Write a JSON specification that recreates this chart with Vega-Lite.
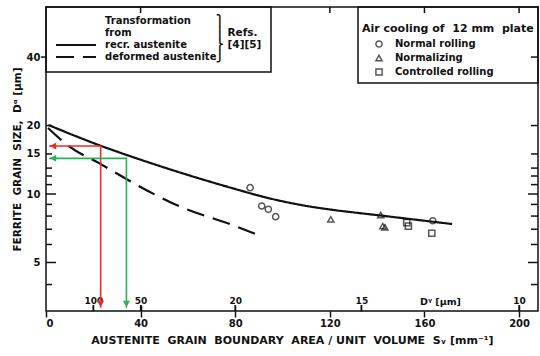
{
  "$schema": "https://vega.github.io/schema/vega-lite/v6.json",
  "width": 492,
  "height": 304,
  "autosize": {"type": "none"},
  "padding": {"left": 46, "top": 7, "right": 2, "bottom": 45},
  "background": "white",
  "config": {
    "view": {"stroke": "#111", "strokeWidth": 1.5},
    "font": "DejaVu Sans",
    "axis": {
      "labelFont": "DejaVu Sans", "labelFontWeight": "bold", "labelFontSize": 10, "labelColor": "#111",
      "tickColor": "#111", "tickWidth": 1.5, "grid": false, "domain": false,
      "titleFont": "DejaVu Sans", "titleFontWeight": "bold", "titleFontSize": 10.5, "titleColor": "#111"
    },
    "legend": {
      "labelFont": "DejaVu Sans", "labelFontWeight": "bold", "labelFontSize": 10, "labelColor": "#111",
      "titleFont": "DejaVu Sans", "titleFontWeight": "bold", "titleColor": "#111",
      "strokeColor": "#111", "strokeWidth": 1.5
    }
  },
  "datasets": {
    "curves": [
      {"curve": "recr. austenite", "Sv": 1.06, "D": 20.1},
      {"curve": "recr. austenite", "Sv": 22.83, "D": 16.34},
      {"curve": "recr. austenite", "Sv": 39.75, "D": 14.18},
      {"curve": "recr. austenite", "Sv": 56.66, "D": 12.43},
      {"curve": "recr. austenite", "Sv": 77.8, "D": 10.68},
      {"curve": "recr. austenite", "Sv": 94.7, "D": 9.56},
      {"curve": "recr. austenite", "Sv": 111.6, "D": 8.81},
      {"curve": "recr. austenite", "Sv": 120.1, "D": 8.55},
      {"curve": "recr. austenite", "Sv": 141.2, "D": 8.05},
      {"curve": "recr. austenite", "Sv": 171.7, "D": 7.38},
      {"curve": "deformed austenite", "Sv": 0.85, "D": 19.5},
      {"curve": "deformed austenite", "Sv": 10.1, "D": 16.1},
      {"curve": "deformed austenite", "Sv": 22.8, "D": 13.6},
      {"curve": "deformed austenite", "Sv": 36.8, "D": 11.2},
      {"curve": "deformed austenite", "Sv": 56.7, "D": 8.8},
      {"curve": "deformed austenite", "Sv": 79.0, "D": 7.3},
      {"curve": "deformed austenite", "Sv": 90.5, "D": 6.55}
    ],
    "points": [
      {"process": "Normal rolling", "Sv": 86.3, "D": 10.66},
      {"process": "Normal rolling", "Sv": 91.2, "D": 8.86},
      {"process": "Normal rolling", "Sv": 94.0, "D": 8.57},
      {"process": "Normal rolling", "Sv": 97.1, "D": 7.95},
      {"process": "Normal rolling", "Sv": 163.5, "D": 7.63},
      {"process": "Normalizing", "Sv": 120.4, "D": 7.74},
      {"process": "Normalizing", "Sv": 141.5, "D": 8.09},
      {"process": "Normalizing", "Sv": 142.4, "D": 7.23},
      {"process": "Normalizing", "Sv": 143.3, "D": 7.14},
      {"process": "Controlled rolling", "Sv": 152.5, "D": 7.48},
      {"process": "Controlled rolling", "Sv": 153.2, "D": 7.23},
      {"process": "Controlled rolling", "Sv": 163.1, "D": 6.72}
    ],
    "arrows": [
      {"arrow": "red", "step": 1, "Sv": 1.3, "D": 16.26},
      {"arrow": "red", "step": 2, "Sv": 23.1, "D": 16.26},
      {"arrow": "red", "step": 3, "Sv": 23.1, "D": 3.16},
      {"arrow": "green", "step": 1, "Sv": 1.3, "D": 14.35},
      {"arrow": "green", "step": 2, "Sv": 34.0, "D": 14.35},
      {"arrow": "green", "step": 3, "Sv": 34.0, "D": 3.16}
    ],
    "heads": [
      {"arrow": "red", "head": "triangle-left", "Sv": 3.0, "D": 16.26},
      {"arrow": "red", "head": "triangle-down", "Sv": 23.1, "D": 3.29},
      {"arrow": "green", "head": "triangle-left", "Sv": 3.0, "D": 14.35},
      {"arrow": "green", "head": "triangle-down", "Sv": 34.0, "D": 3.29}
    ],
    "leftMinor": [{"Sv": 0, "D": 4}, {"Sv": 0, "D": 6}, {"Sv": 0, "D": 7}, {"Sv": 0, "D": 8}, {"Sv": 0, "D": 9}, {"Sv": 0, "D": 11}, {"Sv": 0, "D": 12}, {"Sv": 0, "D": 13}, {"Sv": 0, "D": 15}, {"Sv": 0, "D": 20}],
    "leftMajor": [{"Sv": 0, "D": 5}, {"Sv": 0, "D": 10}],
    "leftOuter": [{"Sv": 0, "D": 40}],
    "rightMinor": [{"Sv": 208, "D": 4}, {"Sv": 208, "D": 6}, {"Sv": 208, "D": 7}, {"Sv": 208, "D": 8}, {"Sv": 208, "D": 9}, {"Sv": 208, "D": 11}, {"Sv": 208, "D": 12}, {"Sv": 208, "D": 13}, {"Sv": 208, "D": 15}, {"Sv": 208, "D": 20}, {"Sv": 208, "D": 40}],
    "rightMajor": [{"Sv": 208, "D": 5}, {"Sv": 208, "D": 10}],
    "topTicks": [{"Sv": 40, "D": 66.4}, {"Sv": 120, "D": 66.4}, {"Sv": 160, "D": 66.4}, {"Sv": 200, "D": 66.4}],
    "dTicks": [{"Sv": 20, "D": 3.06}, {"Sv": 40, "D": 3.06}, {"Sv": 80, "D": 3.06}, {"Sv": 133.333, "D": 3.06}, {"Sv": 200, "D": 3.06}]
  },
  "layer": [
    {
      "data": {"name": "curves"},
      "mark": {"type": "line", "color": "#111", "strokeWidth": 2.2, "interpolate": "monotone"},
      "encoding": {
        "x": {
          "field": "Sv", "type": "quantitative",
          "scale": {"domain": [0, 208], "nice": false, "zero": false},
          "axis": {
            "orient": "bottom", "values": [0, 40, 80, 120, 160, 200], "tickSize": 6, "labelPadding": 1,
            "title": "AUSTENITE \u00a0GRAIN \u00a0BOUNDARY \u00a0AREA / UNIT \u00a0VOLUME \u00a0Sᵥ [mm⁻¹]",
            "titlePadding": 6, "titleFontSize": 11
          }
        },
        "y": {
          "field": "D", "type": "quantitative",
          "scale": {"type": "log", "domain": [3.06, 66.4], "nice": false},
          "axis": {
            "orient": "left", "values": [5, 10, 15, 20, 40], "ticks": false,
            "labelPadding": 6, "labelExpr": "format(datum.value, 'd')",
            "title": "FERRITE \u00a0GRAIN \u00a0SIZE, \u00a0Dᵅ [μm]", "titlePadding": 4
          }
        },
        "strokeDash": {
          "field": "curve", "type": "nominal",
          "scale": {
            "domain": ["Transformation", "from", "recr. austenite", "deformed austenite"],
            "range": [[1, 0], [1, 0], [1, 0], [18, 9]]
          },
          "legend": {
            "title": ["⎫", "⎪ Refs.", "⎬ [4][5]", "⎭"],
            "titleOrient": "right", "titleFontSize": 10.5, "titleLineHeight": 12, "titlePadding": 0,
            "orient": "top-left", "offset": 0, "padding": 9,
            "symbolType": "stroke", "symbolSize": 1600, "symbolStrokeWidth": 2, "symbolStrokeColor": "#111",
            "clipHeight": 10, "rowPadding": 2, "labelOffset": 8,
            "encode": {"symbols": {"update": {"opacity": {"signal": "datum.value === 'Transformation' || datum.value === 'from' ? 0 : 1"}}}}
          }
        }
      }
    },
    {
      "data": {"name": "points"},
      "mark": {"type": "point", "filled": false, "color": "#111", "strokeWidth": 1.5, "size": 38},
      "encoding": {
        "x": {
          "field": "Sv", "type": "quantitative",
          "scale": {"domain": [0, 208], "nice": false, "zero": false},
          "axis": {
            "orient": "top", "offset": -304, "values": [20, 40, 80, 133.333, 200],
            "tickSize": 6,
            "labelPadding": 0, "labelFontSize": 9,
            "labelExpr": "datum.value < 30 ? '100' : datum.value < 60 ? '50' : datum.value < 100 ? '20' : datum.value < 150 ? '15' : '10'",
            "title": "Dᵞ [μm]", "titleX": 394, "titleY": -10, "titleAngle": 0,
            "titleAlign": "center", "titleBaseline": "middle", "titleFontSize": 9.5
          }
        },
        "y": {
          "field": "D", "type": "quantitative",
          "scale": {"type": "log", "domain": [3.06, 66.4], "nice": false},
          "axis": null
        },
        "shape": {
          "field": "process", "type": "nominal",
          "scale": {"domain": ["Normal rolling", "Normalizing", "Controlled rolling"], "range": ["circle", "triangle-up", "square"]},
          "legend": {
            "title": ["\u00a0", "Air cooling of\u00a0 12 mm\u00a0 plate"],
            "titleFontSize": 11, "titleLineHeight": 12, "titlePadding": 5,
            "orient": "top-right", "offset": 0, "padding": 4,
            "symbolStrokeColor": "#111", "symbolFillColor": "transparent", "symbolSize": 38, "symbolStrokeWidth": 1.5,
            "symbolOffset": 12, "labelOffset": 11, "rowPadding": 1
          }
        }
      }
    },
    {
      "data": {"name": "arrows"},
      "mark": {"type": "line", "strokeWidth": 1.6},
      "encoding": {
        "x": {"field": "Sv", "type": "quantitative", "scale": {"domain": [0, 208], "nice": false, "zero": false}, "axis": null},
        "y": {"field": "D", "type": "quantitative", "scale": {"type": "log", "domain": [3.06, 66.4], "nice": false}, "axis": null},
        "color": {"field": "arrow", "type": "nominal", "scale": {"domain": ["red", "green"], "range": ["#ee2b2b", "#26b35a"]}, "legend": null},
        "detail": {"field": "arrow"},
        "order": {"field": "step", "type": "quantitative"}
      }
    },
    {
      "data": {"name": "heads"},
      "mark": {"type": "point", "filled": true, "size": 50, "opacity": 1},
      "encoding": {
        "x": {"field": "Sv", "type": "quantitative", "scale": {"domain": [0, 208], "nice": false, "zero": false}, "axis": null},
        "y": {"field": "D", "type": "quantitative", "scale": {"type": "log", "domain": [3.06, 66.4], "nice": false}, "axis": null},
        "color": {"field": "arrow", "type": "nominal", "scale": {"domain": ["red", "green"], "range": ["#ee2b2b", "#26b35a"]}, "legend": null},
        "shape": {"field": "head", "type": "nominal", "scale": null}
      }
    },
    {
      "data": {"name": "leftMinor"},
      "mark": {"type": "tick", "orient": "horizontal", "color": "#111", "opacity": 1, "size": 6, "thickness": 1.5, "xOffset": 3},
      "encoding": {
        "x": {"field": "Sv", "type": "quantitative", "scale": {"domain": [0, 208], "nice": false, "zero": false}, "axis": null},
        "y": {"field": "D", "type": "quantitative", "scale": {"type": "log", "domain": [3.06, 66.4], "nice": false}, "axis": null}
      }
    },
    {
      "data": {"name": "leftMajor"},
      "mark": {"type": "tick", "orient": "horizontal", "color": "#111", "opacity": 1, "size": 10, "thickness": 1.5, "xOffset": 5},
      "encoding": {
        "x": {"field": "Sv", "type": "quantitative", "scale": {"domain": [0, 208], "nice": false, "zero": false}, "axis": null},
        "y": {"field": "D", "type": "quantitative", "scale": {"type": "log", "domain": [3.06, 66.4], "nice": false}, "axis": null}
      }
    },
    {
      "data": {"name": "leftOuter"},
      "mark": {"type": "tick", "orient": "horizontal", "color": "#111", "opacity": 1, "size": 5, "thickness": 1.5, "xOffset": -2.5},
      "encoding": {
        "x": {"field": "Sv", "type": "quantitative", "scale": {"domain": [0, 208], "nice": false, "zero": false}, "axis": null},
        "y": {"field": "D", "type": "quantitative", "scale": {"type": "log", "domain": [3.06, 66.4], "nice": false}, "axis": null}
      }
    },
    {
      "data": {"name": "rightMinor"},
      "mark": {"type": "tick", "orient": "horizontal", "color": "#111", "opacity": 1, "size": 7, "thickness": 1.5, "xOffset": -3.5},
      "encoding": {
        "x": {"field": "Sv", "type": "quantitative", "scale": {"domain": [0, 208], "nice": false, "zero": false}, "axis": null},
        "y": {"field": "D", "type": "quantitative", "scale": {"type": "log", "domain": [3.06, 66.4], "nice": false}, "axis": null}
      }
    },
    {
      "data": {"name": "rightMajor"},
      "mark": {"type": "tick", "orient": "horizontal", "color": "#111", "opacity": 1, "size": 10, "thickness": 1.5, "xOffset": -5},
      "encoding": {
        "x": {"field": "Sv", "type": "quantitative", "scale": {"domain": [0, 208], "nice": false, "zero": false}, "axis": null},
        "y": {"field": "D", "type": "quantitative", "scale": {"type": "log", "domain": [3.06, 66.4], "nice": false}, "axis": null}
      }
    },
    {
      "data": {"name": "topTicks"},
      "mark": {"type": "tick", "orient": "vertical", "color": "#111", "opacity": 1, "size": 6, "thickness": 1.5, "yOffset": 3},
      "encoding": {
        "x": {"field": "Sv", "type": "quantitative", "scale": {"domain": [0, 208], "nice": false, "zero": false}, "axis": null},
        "y": {"field": "D", "type": "quantitative", "scale": {"type": "log", "domain": [3.06, 66.4], "nice": false}, "axis": null}
      }
    },
    {
      "data": {"name": "dTicks"},
      "mark": {"type": "tick", "orient": "vertical", "color": "#111", "opacity": 1, "size": 6, "thickness": 1.5, "yOffset": -3},
      "encoding": {
        "x": {"field": "Sv", "type": "quantitative", "scale": {"domain": [0, 208], "nice": false, "zero": false}, "axis": null},
        "y": {"field": "D", "type": "quantitative", "scale": {"type": "log", "domain": [3.06, 66.4], "nice": false}, "axis": null}
      }
    }
  ],
  "resolve": {
    "axis": {"x": "independent", "y": "independent"},
    "scale": {"shape": "independent"},
    "legend": {"shape": "independent"}
  }
}
